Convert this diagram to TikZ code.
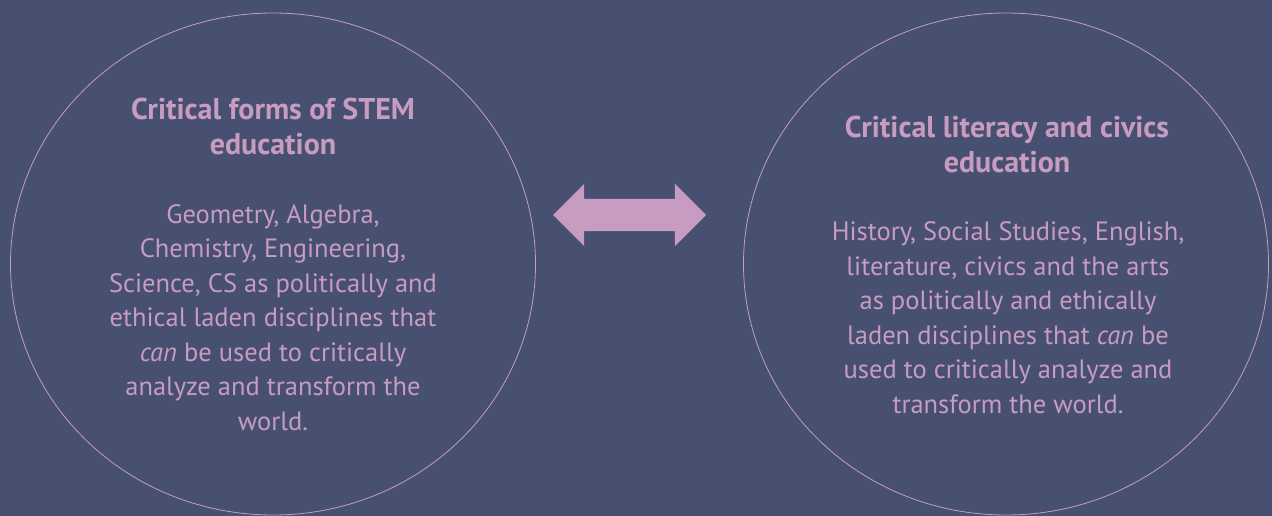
\documentclass[tikz,border=0pt]{standalone}
\usepackage{fontspec}
\setmainfont{PT Sans}
\usetikzlibrary{shapes.geometric,shapes.arrows}
\definecolor{slatebg}{RGB}{71,80,113}
\definecolor{orchid}{RGB}{200,155,192}

\begin{document}
\begin{tikzpicture}[x=1pt,y=-1pt,
  ring/.style={draw=orchid, ellipse, line width=0.8pt, minimum width=525pt, minimum height=502pt, inner sep=0pt},
  heading/.style={text=orchid, font=\fontsize{30}{35}\selectfont\bfseries, align=center, inner sep=0pt},
  blurb/.style={text=orchid, font=\fontsize{26.5}{34.5}\selectfont, align=center, inner sep=0pt}]
\fill[slatebg] (0,0) rectangle (1272,516);
\useasboundingbox (0,0) rectangle (1272,516);

\node[ring] (stem) at (273,264) {};
\node[ring] (civics) at (1006,264) {};

% anchor=base sits on the last line
\node[heading, anchor=base] (stemhead) at (273,154) {Critical forms of STEM\\education};
\node[blurb, anchor=base] (stembody) at (273,430) {Geometry, Algebra,\\Chemistry, Engineering,\\Science, CS as politically and\\ethical laden disciplines that\\\textit{can} be used to critically\\analyze and transform the\\world.};

\node[heading, anchor=base] (civicshead) at (1007,172) {Critical literacy and civics\\education};
\node[blurb, anchor=base] (civicsbody) at (1008,413) {History, Social Studies, English,\\literature, civics and the arts\\as politically and ethically\\laden disciplines that \textit{can} be\\used to critically analyze and\\transform the world.};

\node[double arrow, fill=orchid, minimum width=62pt, minimum height=153pt, double arrow head extend=15pt, inner xsep=0pt, inner ysep=16pt] (link) at (629.5,215) {};
\end{tikzpicture}
\end{document}
